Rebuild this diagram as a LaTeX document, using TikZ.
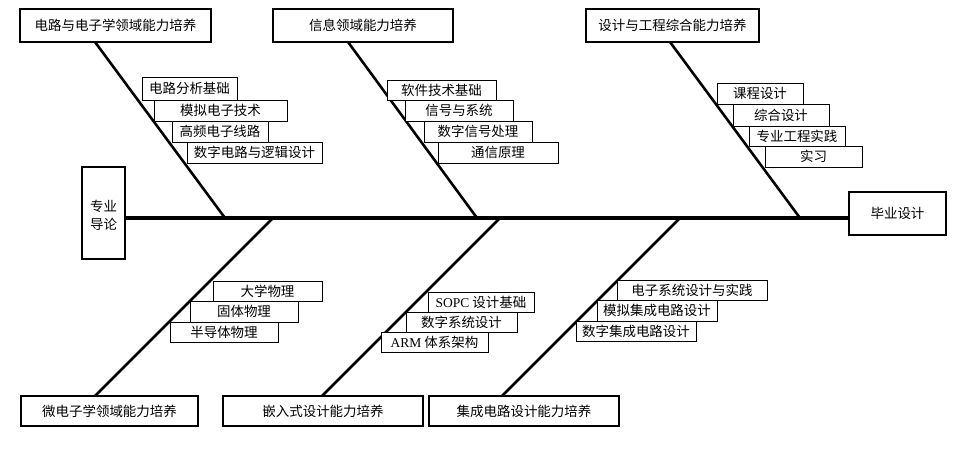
\documentclass[tikz,border=0pt]{standalone}
\usepackage{fontspec}
\setmainfont{Liberation Serif}
\newfontfamily\cjk{Noto Sans CJK SC}
\usetikzlibrary{fit}

\begin{document}
\begin{tikzpicture}[x=0.03cm,y=-0.03cm,
  every node/.style={font=\cjk\fontsize{11.5}{15}\selectfont},
  areabox/.style={draw,line width=2.4pt,inner sep=0pt,fill=white},
  coursebox/.style={draw,line width=0.7pt,inner sep=0pt,fill=white},
  spine/.style={line width=3.4pt},
  bone/.style={line width=2.2pt}]

\useasboundingbox (0,0) rectangle (956,464);

% Area boxes, top row
\node[areabox, fit={(20,9) (211,42)}, label=center:电路与电子学领域能力培养] (elec) {};
\node[areabox, fit={(273,9) (453,42)}, label=center:信息领域能力培养] (info) {};
\node[areabox, fit={(586,9) (759,42)}, label=center:设计与工程综合能力培养] (design) {};

% Area boxes, bottom row
\node[areabox, fit={(21,396) (198,426)}, label=center:微电子学领域能力培养] (micro) {};
\node[areabox, fit={(223,396) (423,426)}, label=center:嵌入式设计能力培养] (embed) {};
\node[areabox, fit={(429,396) (619,426)}, label=center:集成电路设计能力培养] (ic) {};

% Head and tail
\node[areabox, fit={(82,167) (125,259)}, label={[align=center, yshift=-2pt]center:专业\\导论}] (intro) {};
\node[areabox, fit={(849,192) (946,235)}, label=center:毕业设计] (grad) {};

% Junctions on the spine
\coordinate (j1) at (225,218);
\coordinate (j2) at (477,218);
\coordinate (j3) at (800,218);
\coordinate (j4) at (273,218);
\coordinate (j5) at (500,218);
\coordinate (j6) at (680,218);

% Bone ends at the area boxes
\coordinate (t1) at (95,42);
\coordinate (t2) at (348,42);
\coordinate (t3) at (670,42);
\coordinate (t4) at (95,396);
\coordinate (t5) at (322,396);
\coordinate (t6) at (502,396);

% Spine
\draw[spine] (intro.east |- j1) -- (grad.west |- j1);

% Bones
\draw[bone] (t1) -- (j1);
\draw[bone] (t2) -- (j2);
\draw[bone] (t3) -- (j3);
\draw[bone] (j4) -- (t4);
\draw[bone] (j5) -- (t5);
\draw[bone] (j6) -- (t6);

% Courses: circuits and electronics
\node[coursebox, fit={(142,77) (237,100)}, label=center:电路分析基础] (c11) {};
\node[coursebox, fit={(154,100) (287,121)}, label=center:模拟电子技术] (c12) {};
\node[coursebox, fit={(172,121) (268,142)}, label=center:高频电子线路] (c13) {};
\node[coursebox, fit={(187,142) (322,163)}, label=center:数字电路与逻辑设计] (c14) {};

% Courses: information
\node[coursebox, fit={(387,80) (496,100)}, label=center:软件技术基础] (c21) {};
\node[coursebox, fit={(405,100) (513,121)}, label=center:信号与系统] (c22) {};
\node[coursebox, fit={(424,121) (532,142)}, label=center:数字信号处理] (c23) {};
\node[coursebox, fit={(438,142) (558,163)}, label=center:通信原理] (c24) {};

% Courses: design and engineering
\node[coursebox, fit={(717,83) (803,104)}, label=center:课程设计] (c31) {};
\node[coursebox, fit={(733,104) (829,126)}, label=center:综合设计] (c32) {};
\node[coursebox, fit={(749,126) (845,146)}, label=center:专业工程实践] (c33) {};
\node[coursebox, fit={(765,146) (862,167)}, label=center:实习] (c34) {};

% Courses: microelectronics
\node[coursebox, fit={(213,281) (322,301)}, label=center:大学物理] (c41) {};
\node[coursebox, fit={(190,301) (298,322)}, label=center:固体物理] (c42) {};
\node[coursebox, fit={(170,322) (278,342)}, label=center:半导体物理] (c43) {};

% Courses: embedded design
\node[coursebox, fit={(428,292) (534,312)}, label={center:{\rmfamily SOPC} 设计基础}] (c51) {};
\node[coursebox, fit={(406,312) (517,332)}, label=center:数字系统设计] (c52) {};
\node[coursebox, fit={(381,332) (488,352)}, label={center:{\rmfamily ARM} 体系架构}] (c53) {};

% Courses: integrated circuits
\node[coursebox, fit={(617,280) (767,300)}, label=center:电子系统设计与实践] (c61) {};
\node[coursebox, fit={(597,300) (717,321)}, label=center:模拟集成电路设计] (c62) {};
\node[coursebox, fit={(576,321) (696,341)}, label=center:数字集成电路设计] (c63) {};

\end{tikzpicture}
\end{document}
